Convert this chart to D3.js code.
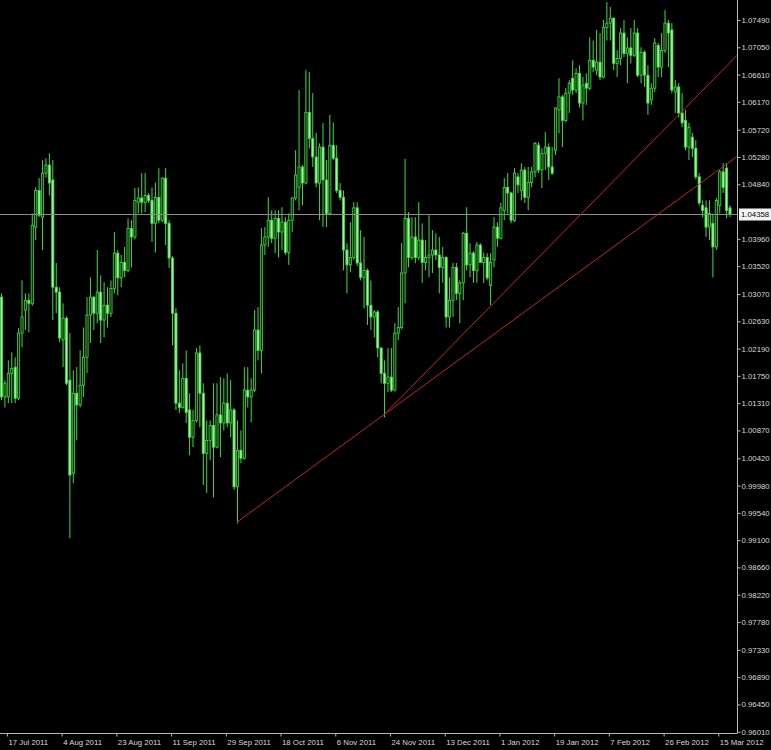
<!DOCTYPE html>
<html><head><meta charset="utf-8">
<script src="https://cdn.jsdelivr.net/npm/d3@7"></script>
<style>html,body{margin:0;padding:0;background:#000;}svg{display:block;}</style>
</head><body>
<script>
// ---------- DATA (daily bars) ----------
const open = [
1.0302,1.0141,1.0141,1.0179,1.0189,1.0139,1.0244,1.0281,1.0297,1.0292,
1.0415,1.0474,1.0431,1.0502,1.0515,1.0491,1.0318,1.0310,1.0233,1.0268,
1.0168,1.0018,1.0147,1.0128,1.0160,1.0205,1.0273,1.0302,1.0276,1.0310,
1.0265,1.0289,1.0276,1.0316,1.0373,1.0333,1.0358,1.0345,1.0413,1.0399,
1.0455,1.0462,1.0455,1.0466,1.0458,1.0421,1.0463,1.0426,1.0494,1.0421,
1.0365,1.0276,1.0131,1.0124,1.0171,1.0120,1.0076,1.0103,1.0212,1.0147,
1.0050,1.0071,1.0095,1.0060,1.0112,1.0099,1.0131,1.0099,1.0120,0.9996,
1.0055,1.0042,1.0152,1.0141,1.0152,1.0249,1.0216,1.0386,1.0399,1.0426,
1.0397,1.0429,1.0407,1.0423,1.0374,1.0426,1.0462,1.0479,1.0512,1.0486,
1.0600,1.0558,1.0528,1.0486,1.0544,1.0491,1.0437,1.0547,1.0526,1.0474,
1.0463,1.0378,1.0354,1.0366,1.0446,1.0357,1.0334,1.0345,1.0289,1.0270,
1.0278,1.0220,1.0179,1.0163,1.0173,1.0152,1.0244,1.0253,1.0341,1.0429,
1.0366,1.0399,1.0366,1.0394,1.0358,1.0366,1.0370,1.0378,1.0370,1.0350,
1.0366,1.0270,1.0297,1.0350,1.0308,1.0325,1.0405,1.0354,1.0373,1.0345,
1.0386,1.0358,1.0366,1.0321,1.0362,1.0415,1.0397,1.0442,1.0479,1.0470,
1.0426,1.0496,1.0474,1.0507,1.0463,1.0487,1.0504,1.0547,1.0507,1.0534,
1.0544,1.0512,1.0539,1.0604,1.0625,1.0587,1.0631,1.0655,1.0636,1.0663,
1.0615,1.0647,1.0639,1.0684,1.0668,1.0681,1.0657,1.0737,1.0744,1.0752,
1.0679,1.0687,1.0728,1.0695,1.0704,1.0692,1.0728,1.0660,1.0697,1.0660,
1.0620,1.0639,1.0708,1.0673,1.0700,1.0744,1.0733,1.0633,1.0641,1.0599,
1.0587,1.0544,1.0560,1.0542,1.0496,1.0450,1.0446,1.0415,1.0421,1.0383,
1.0450,1.0504,1.0510,1.0446];
const high = [
1.0308,1.0168,1.0200,1.0213,1.0205,1.0252,1.0329,1.0308,1.0308,1.0437,
1.0479,1.0494,1.0523,1.0526,1.0534,1.0523,1.0357,1.0318,1.0292,1.0271,
1.0244,1.0184,1.0189,1.0216,1.0253,1.0302,1.0334,1.0304,1.0378,1.0337,
1.0326,1.0318,1.0329,1.0407,1.0378,1.0370,1.0383,1.0429,1.0426,1.0478,
1.0479,1.0502,1.0502,1.0470,1.0479,1.0487,1.0510,1.0495,1.0510,1.0426,
1.0368,1.0284,1.0184,1.0195,1.0216,1.0147,1.0120,1.0220,1.0224,1.0163,
1.0103,1.0103,1.0163,1.0163,1.0173,1.0171,1.0179,1.0168,1.0123,1.0103,
1.0087,1.0189,1.0189,1.0171,1.0281,1.0286,1.0413,1.0415,1.0463,1.0442,
1.0442,1.0442,1.0447,1.0431,1.0437,1.0463,1.0539,1.0636,1.0515,1.0668,
1.0665,1.0631,1.0567,1.0550,1.0583,1.0523,1.0596,1.0584,1.0547,1.0486,
1.0474,1.0389,1.0423,1.0455,1.0455,1.0410,1.0399,1.0348,1.0329,1.0281,
1.0281,1.0221,1.0200,1.0220,1.0220,1.0260,1.0286,1.0389,1.0525,1.0439,
1.0431,1.0431,1.0455,1.0421,1.0394,1.0434,1.0410,1.0405,1.0399,1.0383,
1.0368,1.0334,1.0357,1.0357,1.0329,1.0407,1.0447,1.0389,1.0376,1.0391,
1.0389,1.0374,1.0373,1.0373,1.0431,1.0423,1.0454,1.0494,1.0502,1.0472,
1.0510,1.0502,1.0518,1.0512,1.0512,1.0512,1.0552,1.0552,1.0542,1.0568,
1.0550,1.0544,1.0608,1.0655,1.0628,1.0639,1.0652,1.0684,1.0671,1.0676,
1.0657,1.0663,1.0721,1.0716,1.0733,1.0728,1.0749,1.0778,1.0770,1.0753,
1.0700,1.0736,1.0749,1.0721,1.0736,1.0749,1.0736,1.0705,1.0700,1.0676,
1.0647,1.0720,1.0712,1.0728,1.0765,1.0749,1.0744,1.0652,1.0647,1.0631,
1.0604,1.0583,1.0567,1.0555,1.0502,1.0458,1.0458,1.0458,1.0437,1.0462,
1.0507,1.0518,1.0518,1.0450];
const low = [
1.0136,1.0124,1.0131,1.0131,1.0131,1.0136,1.0221,1.0249,1.0245,1.0288,
1.0394,1.0431,1.0378,1.0495,1.0466,1.0265,1.0276,1.0229,1.0189,1.0160,
0.9913,1.0002,1.0071,1.0124,1.0141,1.0179,1.0228,1.0249,1.0260,1.0228,
1.0237,1.0253,1.0270,1.0308,1.0305,1.0318,1.0334,1.0342,1.0350,1.0395,
1.0437,1.0437,1.0439,1.0454,1.0391,1.0374,1.0421,1.0423,1.0386,1.0349,
1.0224,1.0120,1.0115,1.0122,1.0099,1.0047,1.0060,1.0100,1.0092,0.9999,
0.9986,1.0039,0.9979,1.0058,1.0044,1.0087,1.0092,1.0076,0.9991,0.9937,
1.0034,1.0040,1.0124,1.0100,1.0149,1.0200,1.0179,1.0370,1.0383,1.0389,
1.0373,1.0366,1.0378,1.0370,1.0354,1.0407,1.0458,1.0442,1.0450,1.0484,
1.0542,1.0512,1.0479,1.0426,1.0415,1.0415,1.0434,1.0523,1.0470,1.0458,
1.0345,1.0308,1.0342,1.0362,1.0352,1.0329,1.0284,1.0257,1.0249,1.0237,
1.0205,1.0163,1.0108,1.0149,1.0149,1.0150,1.0233,1.0250,1.0292,1.0350,
1.0362,1.0357,1.0362,1.0325,1.0345,1.0334,1.0341,1.0362,1.0308,1.0325,
1.0253,1.0253,1.0270,1.0297,1.0260,1.0297,1.0345,1.0334,1.0325,1.0325,
1.0357,1.0325,1.0329,1.0289,1.0350,1.0383,1.0395,1.0426,1.0437,1.0421,
1.0423,1.0470,1.0458,1.0454,1.0442,1.0479,1.0495,1.0502,1.0478,1.0507,
1.0491,1.0499,1.0531,1.0566,1.0544,1.0584,1.0599,1.0628,1.0631,1.0608,
1.0587,1.0612,1.0636,1.0665,1.0660,1.0652,1.0655,1.0716,1.0716,1.0668,
1.0657,1.0676,1.0689,1.0647,1.0679,1.0689,1.0657,1.0647,1.0641,1.0596,
1.0612,1.0633,1.0657,1.0657,1.0696,1.0673,1.0631,1.0599,1.0592,1.0576,
1.0539,1.0523,1.0528,1.0492,1.0450,1.0431,1.0399,1.0394,1.0334,1.0378,
1.0437,1.0470,1.0429,1.0431];
const close = [
1.0141,1.0163,1.0179,1.0187,1.0139,1.0244,1.0270,1.0297,1.0292,1.0418,
1.0474,1.0434,1.0502,1.0515,1.0486,1.0318,1.0310,1.0236,1.0268,1.0163,
1.0015,1.0147,1.0128,1.0160,1.0205,1.0273,1.0302,1.0276,1.0310,1.0265,
1.0289,1.0276,1.0316,1.0373,1.0333,1.0358,1.0345,1.0413,1.0399,1.0458,
1.0462,1.0455,1.0466,1.0458,1.0421,1.0463,1.0426,1.0494,1.0421,1.0365,
1.0276,1.0131,1.0124,1.0171,1.0116,1.0076,1.0103,1.0212,1.0147,1.0050,
1.0071,1.0095,1.0060,1.0112,1.0099,1.0131,1.0099,1.0120,0.9996,1.0055,
1.0042,1.0152,1.0141,1.0152,1.0249,1.0216,1.0386,1.0399,1.0426,1.0397,
1.0429,1.0407,1.0423,1.0374,1.0426,1.0462,1.0499,1.0512,1.0486,1.0600,
1.0558,1.0528,1.0486,1.0544,1.0491,1.0437,1.0547,1.0526,1.0474,1.0463,
1.0378,1.0354,1.0366,1.0446,1.0357,1.0334,1.0345,1.0289,1.0270,1.0278,
1.0220,1.0179,1.0163,1.0173,1.0152,1.0244,1.0253,1.0341,1.0429,1.0366,
1.0399,1.0366,1.0394,1.0358,1.0366,1.0370,1.0378,1.0370,1.0350,1.0366,
1.0270,1.0297,1.0350,1.0308,1.0325,1.0405,1.0354,1.0373,1.0345,1.0386,
1.0358,1.0366,1.0333,1.0358,1.0415,1.0397,1.0446,1.0479,1.0470,1.0426,
1.0502,1.0483,1.0507,1.0463,1.0487,1.0504,1.0550,1.0507,1.0534,1.0544,
1.0512,1.0502,1.0607,1.0625,1.0587,1.0631,1.0647,1.0636,1.0663,1.0615,
1.0644,1.0639,1.0684,1.0673,1.0681,1.0657,1.0737,1.0744,1.0752,1.0679,
1.0687,1.0728,1.0695,1.0704,1.0692,1.0728,1.0660,1.0697,1.0660,1.0615,
1.0639,1.0712,1.0673,1.0700,1.0744,1.0728,1.0636,1.0641,1.0599,1.0583,
1.0544,1.0576,1.0542,1.0496,1.0454,1.0442,1.0415,1.0437,1.0383,1.0458,
1.0504,1.0479,1.0442,1.04358];

const dateLabels = ["17 Jul 2011","4 Aug 2011","23 Aug 2011","11 Sep 2011","29 Sep 2011","18 Oct 2011","6 Nov 2011",
  "24 Nov 2011","13 Dec 2011","1 Jan 2012","19 Jan 2012","7 Feb 2012","26 Feb 2012","15 Mar 2012"];
const dateBarIndex = [1,17,33,49,65,81,97,113,129,145,161,177,193,209];
const priceTicks = [1.07490,1.07050,1.06610,1.06170,1.05720,1.05280,1.04840,1.03960,1.03520,1.03070,
  1.02630,1.02190,1.01750,1.01310,1.00870,1.00420,0.99980,0.99540,0.99100,0.98660,0.98220,0.97780,
  0.97330,0.96890,0.96450,0.96010];
const currentPrice = 1.04358;
// trend lines: [barIndex, price] anchor pairs (rays extended to the right)
const trendLine1 = [[69, 0.99390], [112, 1.01125]];
const trendLine2 = [[112, 1.01125], [160, 1.03820]];

// ---------- LAYOUT ----------
const W = 771, H = 750, plotR = 737, plotB = 733;
const bars = open.map((o, i) => ({i, o, h: high[i], l: low[i], c: close[i]}));

const x = d3.scaleLinear().domain([0, bars.length - 1]).range([1, 729.5]);
const y = d3.scaleLinear().domain([0.96010, 1.07490]).range([731.7, 20]);

const svg = d3.select("body").append("svg").attr("width", W).attr("height", H)
  .style("background", "#000");
svg.append("rect").attr("width", W).attr("height", H).attr("fill", "#000");

svg.append("defs").append("clipPath").attr("id", "plot")
  .append("rect").attr("x", 0).attr("y", 0).attr("width", plotR).attr("height", plotB);

const plot = svg.append("g").attr("clip-path", "url(#plot)");

const wickCol = "#45d845";
// wicks
plot.append("g").selectAll("line").data(bars).join("line")
  .attr("x1", d => x(d.i) + 0.5).attr("x2", d => x(d.i) + 0.5)
  .attr("y1", d => y(d.h)).attr("y2", d => y(d.l))
  .attr("stroke", wickCol).attr("stroke-width", 1);
// bodies
plot.append("g").selectAll("rect").data(bars).join("rect")
  .attr("x", d => x(d.i) - 0.6)
  .attr("width", 2.2)
  .attr("y", d => y(Math.max(d.o, d.c)))
  .attr("height", d => Math.max(1, Math.abs(y(d.o) - y(d.c))))
  .attr("fill", d => d.c >= d.o ? "#0a2a0a" : "#9cf59c")
  .attr("stroke", wickCol).attr("stroke-width", 0.8);

// current price line
plot.append("line").attr("x1", 0).attr("x2", plotR)
  .attr("y1", Math.round(y(currentPrice)) + 0.5).attr("y2", Math.round(y(currentPrice)) + 0.5)
  .attr("stroke", "#8c8c8c").attr("stroke-width", 1);

// trend lines (rays)
function ray(seg) {
  const [[i1, p1], [i2, p2]] = seg;
  const iEnd = x.invert(plotR + 2);
  const pEnd = p1 + (p2 - p1) * (iEnd - i1) / (i2 - i1);
  return [[x(i1), y(p1)], [x(iEnd), y(pEnd)]];
}
[trendLine1, trendLine2].forEach(seg => {
  plot.append("path").attr("d", d3.line()(ray(seg)))
    .attr("stroke", "#c42222").attr("stroke-width", 1).attr("fill", "none");
});

// axes frame
const axisCol = "#b8b8b8";
svg.append("line").attr("x1", plotR + 0.5).attr("x2", plotR + 0.5).attr("y1", 0).attr("y2", plotB + 0.5)
  .attr("stroke", axisCol);
svg.append("line").attr("x1", 0).attr("x2", plotR + 0.5).attr("y1", plotB + 0.5).attr("y2", plotB + 0.5)
  .attr("stroke", axisCol);

const fontFam = "'Liberation Sans', Arial, sans-serif";
const txtCol = "#d8d8d8";
const fs = 7.8;

// right price axis
const yAxis = d3.axisRight(y).tickValues(priceTicks).tickFormat(d3.format(".5f"))
  .tickSize(3).tickPadding(1).tickSizeOuter(0);
const ga = svg.append("g").attr("transform", `translate(${plotR + 0.5},0)`).call(yAxis);
ga.select(".domain").remove();
ga.selectAll(".tick line").attr("stroke", axisCol);
ga.selectAll(".tick text").attr("fill", txtCol).attr("font-family", fontFam).attr("font-size", fs);

// current price label
const cy = Math.round(y(currentPrice)) + 0.5;
svg.append("rect").attr("x", plotR + 2).attr("y", cy - 6).attr("width", W - plotR - 2).attr("height", 12)
  .attr("fill", "#f4f4f4");
svg.append("text").attr("x", plotR + 4).attr("y", cy).attr("dy", "0.34em")
  .attr("fill", "#000").attr("font-family", fontFam).attr("font-size", fs)
  .text(d3.format(".5f")(currentPrice));

// bottom date axis
const xAxis = d3.axisBottom(x).tickValues(dateBarIndex)
  .tickFormat((d, k) => dateLabels[k]).tickSize(3).tickSizeOuter(0).tickPadding(3);
const gx = svg.append("g").attr("transform", `translate(0,${plotB + 0.5})`).call(xAxis);
gx.select(".domain").remove();
gx.selectAll(".tick line").attr("stroke", axisCol).attr("transform", "translate(2.5,0)");
gx.selectAll(".tick text").attr("fill", txtCol).attr("font-family", fontFam).attr("font-size", fs)
  .attr("text-anchor", "start").attr("x", 3.5);
</script>
</body></html>
